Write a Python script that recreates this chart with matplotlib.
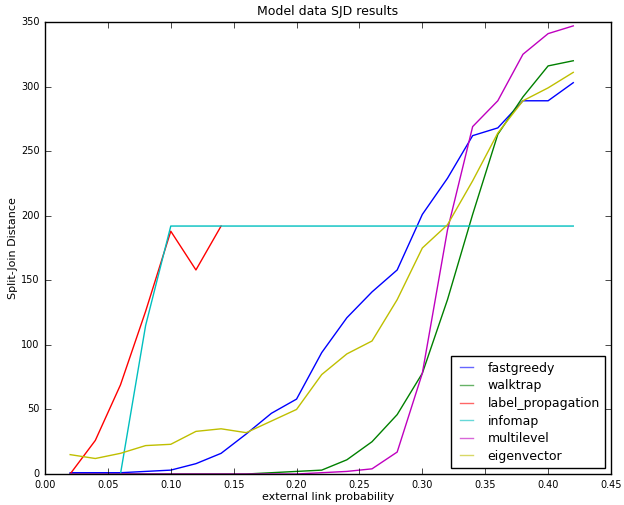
import matplotlib
matplotlib.use("Agg")
import matplotlib.pyplot as plt

plt.style.use("classic")

# external link probability
probs = [0.02, 0.04, 0.06, 0.08, 0.10, 0.12, 0.14, 0.16, 0.18, 0.20, 0.22,
         0.24, 0.26, 0.28, 0.30, 0.32, 0.34, 0.36, 0.38, 0.40, 0.42]

fastgreedy = [1, 1, 1, 2, 3, 8, 16, 31, 47, 58, 94,
              121, 141, 158, 201, 229, 262, 268, 289, 289, 303]
walktrap = [0, 0, 0, 0, 0, 0, 0, 0, 1, 2, 3,
            11, 25, 46, 78, 135, 201, 263, 292, 316, 320]
label_propagation = [0, 26, 69, 126, 188, 158, 192]
infomap = [0, 0, 0, 115, 192, 192, 192, 192, 192, 192, 192,
           192, 192, 192, 192, 192, 192, 192, 192, 192, 192]
multilevel = [0, 0, 0, 0, 0, 0, 0, 0, 0, 0, 1,
              2, 4, 17, 78, 189, 269, 289, 325, 341, 347]
eigenvector = [15, 12, 16, 22, 23, 33, 35, 32, 41, 50, 77,
               93, 103, 135, 175, 193, 227, 264, 289, 299, 311]

series = [
    ("fastgreedy", fastgreedy, "b"),
    ("walktrap", walktrap, "g"),
    ("label_propagation", label_propagation, "r"),
    ("infomap", infomap, "c"),
    ("multilevel", multilevel, "m"),
    ("eigenvector", eigenvector, "y"),
]

fig = plt.figure(figsize=(6.24, 5.05), dpi=100, facecolor="white")
ax = fig.add_axes([45 / 624, 1 - 474 / 505, 566 / 624, 452 / 505])

for name, vals, col in series:
    ax.plot(probs[:len(vals)], vals, color=col, linewidth=1.0, label=name)

ax.set_xlim(0, 0.45)
ax.set_ylim(0, 350)
ax.set_xticks([0.0, 0.05, 0.10, 0.15, 0.20, 0.25, 0.30, 0.35, 0.40, 0.45])
ax.set_yticks(range(0, 351, 50))
ax.tick_params(labelsize=7, direction="in", length=4, top=True, right=True)

ax.set_title("Model data SJD results", fontsize=9)
ax.set_xlabel("external link probability", fontsize=8, labelpad=2)
ax.set_ylabel("Split-Join Distance", fontsize=8, labelpad=2)

leg = ax.legend(loc="lower right", fontsize=9, fancybox=False, frameon=True,
                handlelength=1.6, handletextpad=0.9, borderaxespad=0.45,
                labelspacing=0.37, borderpad=0.45)
leg.get_frame().set_edgecolor("black")
for line in leg.get_lines():
    line.set_alpha(0.6)

fig.savefig("out.png", dpi=100, facecolor="white")
